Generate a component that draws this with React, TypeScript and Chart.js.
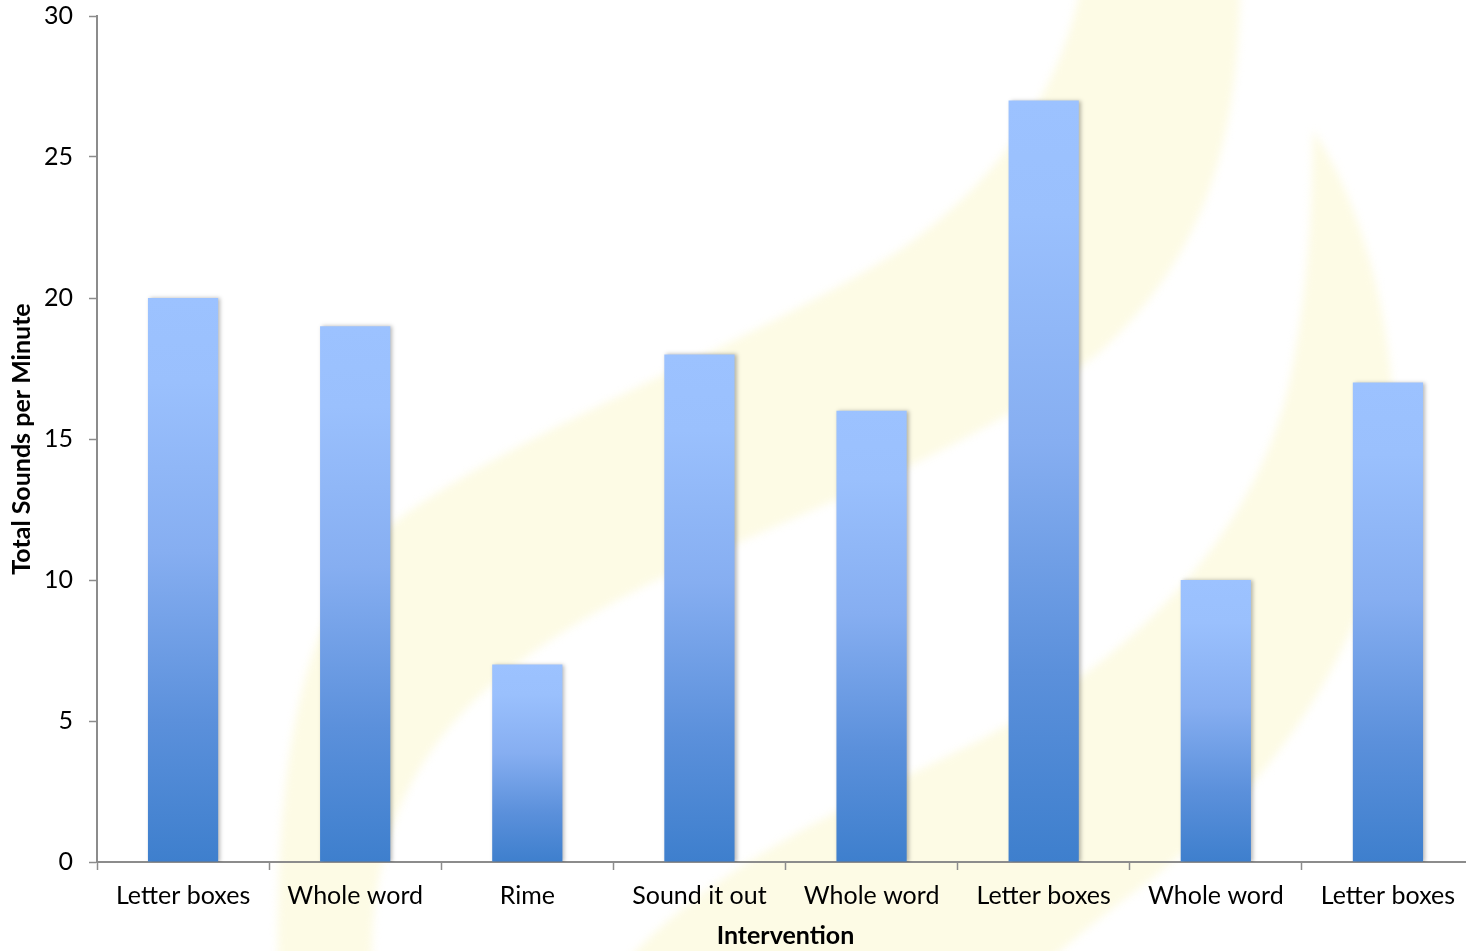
import { useEffect, useRef } from "react";
import { Chart, registerables } from "chart.js";

Chart.register(...registerables);

// Chart data
const categories = [
  "Letter boxes",
  "Whole word",
  "Rime",
  "Sound it out",
  "Whole word",
  "Letter boxes",
  "Whole word",
  "Letter boxes",
];
const soundsPerMinute = [20, 19, 7, 18, 16, 27, 10, 17];
const yTickValues = [0, 5, 10, 15, 20, 25, 30];
const yAxisTitle = "Total Sounds per Minute";
const xAxisTitle = "Intervention";

const FONT = "Lato, 'Open Sans', sans-serif";
const AXIS_GREY = "#8c8c8c";

// Soft flame-shaped watermark behind the plot
const watermarkPlugin = {
  id: "watermark",
  beforeDraw(chart: any) {
    const { ctx, width, height } = chart;
    ctx.save();
    ctx.fillStyle = "#ffffff";
    ctx.fillRect(0, 0, width, height);
    ctx.filter = "blur(4px)";
    ctx.fillStyle = "#fdfbe5";

    // large flame
    ctx.beginPath();
    ctx.moveTo(278, 970);
    ctx.bezierCurveTo(276, 760, 300, 600, 400, 518);
    ctx.bezierCurveTo(520, 430, 760, 340, 900, 250);
    ctx.bezierCurveTo(1000, 180, 1060, 90, 1080, -10);
    ctx.lineTo(1240, -10);
    ctx.bezierCurveTo(1238, 150, 1200, 260, 1100, 352);
    ctx.bezierCurveTo(950, 470, 740, 530, 600, 610);
    ctx.bezierCurveTo(440, 700, 370, 800, 372, 970);
    ctx.closePath();
    ctx.fill();

    // smaller flame
    ctx.beginPath();
    ctx.moveTo(620, 970);
    ctx.bezierCurveTo(700, 870, 860, 800, 980, 740);
    ctx.bezierCurveTo(1150, 650, 1260, 520, 1290, 380);
    ctx.bezierCurveTo(1310, 280, 1312, 200, 1313, 130);
    ctx.bezierCurveTo(1360, 200, 1395, 320, 1394, 440);
    ctx.bezierCurveTo(1392, 620, 1280, 780, 1150, 880);
    ctx.bezierCurveTo(1090, 925, 1060, 950, 1040, 970);
    ctx.closePath();
    ctx.fill();

    ctx.restore();
  },
};

// Light drop shadow on the bars
const barShadowPlugin = {
  id: "barShadow",
  beforeDatasetsDraw(chart: any) {
    const ctx = chart.ctx;
    ctx.save();
    ctx.shadowColor = "rgba(0,0,0,0.28)";
    ctx.shadowBlur = 4;
    ctx.shadowOffsetX = 2;
    ctx.shadowOffsetY = 0;
  },
  afterDatasetsDraw(chart: any) {
    chart.ctx.restore();
  },
};

function barGradient(context: any) {
  const chart = context.chart;
  const yScale = chart.scales?.y;
  if (!chart.chartArea || !yScale || context.type !== "data") return "#6f9fe3";
  const top = yScale.getPixelForValue(context.raw as number);
  const bottom = yScale.getPixelForValue(0);
  const g = chart.ctx.createLinearGradient(0, top, 0, bottom);
  g.addColorStop(0, "#9cc2ff");
  g.addColorStop(0.15, "#9ac0fd");
  g.addColorStop(0.45, "#86aef1");
  g.addColorStop(0.75, "#5b90db");
  g.addColorStop(1, "#3e7fcd");
  return g;
}

export default function App() {
  const canvasRef = useRef<HTMLCanvasElement | null>(null);

  useEffect(() => {
    document.body.style.margin = "0";
    const canvas = canvasRef.current;
    if (!canvas) return;

    const chart = new Chart(canvas, {
      type: "bar",
      data: {
        labels: categories,
        datasets: [
          {
            data: soundsPerMinute,
            backgroundColor: barGradient,
            borderWidth: 0,
            categoryPercentage: 1,
            barPercentage: 0.408,
          },
        ],
      },
      plugins: [watermarkPlugin, barShadowPlugin],
      options: {
        responsive: false,
        animation: false,
        devicePixelRatio: 1,
        layout: { padding: { top: 16, right: 0, left: 0, bottom: 0 } },
        plugins: {
          legend: { display: false },
          tooltip: { enabled: false },
        },
        scales: {
          x: {
            grid: {
              display: true,
              drawOnChartArea: false,
              drawTicks: true,
              tickLength: 8,
              tickWidth: 1.5,
              color: AXIS_GREY,
              offset: true,
            },
            border: { display: true, color: AXIS_GREY, width: 2 },
            ticks: {
              color: "#000",
              font: { family: FONT, size: 25 },
              padding: 11,
              maxRotation: 0,
              autoSkip: false,
            },
            title: {
              display: true,
              text: xAxisTitle,
              color: "#000",
              font: { family: FONT, size: 25, weight: "bold" },
              padding: { top: 0, bottom: 0 },
            },
            afterFit(scale: any) {
              scale.height = 89;
              scale.paddingLeft = 0;
              scale.paddingRight = 0;
            },
          },
          y: {
            min: 0,
            max: 30,
            afterBuildTicks(scale: any) {
              scale.ticks = yTickValues.map((v) => ({ value: v }));
            },
            grid: {
              display: true,
              drawOnChartArea: false,
              drawTicks: true,
              tickLength: 8,
              tickWidth: 1.5,
              color: AXIS_GREY,
            },
            border: { display: true, color: AXIS_GREY, width: 2 },
            ticks: {
              color: "#000",
              font: { family: FONT, size: 25 },
              padding: 16,
            },
            title: {
              display: true,
              text: yAxisTitle,
              color: "#000",
              font: { family: FONT, size: 25, weight: "bold" },
              padding: { top: 7, bottom: 0 },
            },
            afterFit(scale: any) {
              scale.width = 97;
              scale.paddingTop = 0;
              scale.paddingBottom = 0;
            },
          },
        },
      },
    });

    return () => chart.destroy();
  }, []);

  return (
    <div
      style={{
        position: "absolute",
        left: 0,
        top: 0,
        width: 1466,
        height: 951,
        overflow: "hidden",
        background: "#fff",
      }}
    >
      <canvas ref={canvasRef} width={1474} height={951} style={{ display: "block" }} />
    </div>
  );
}
